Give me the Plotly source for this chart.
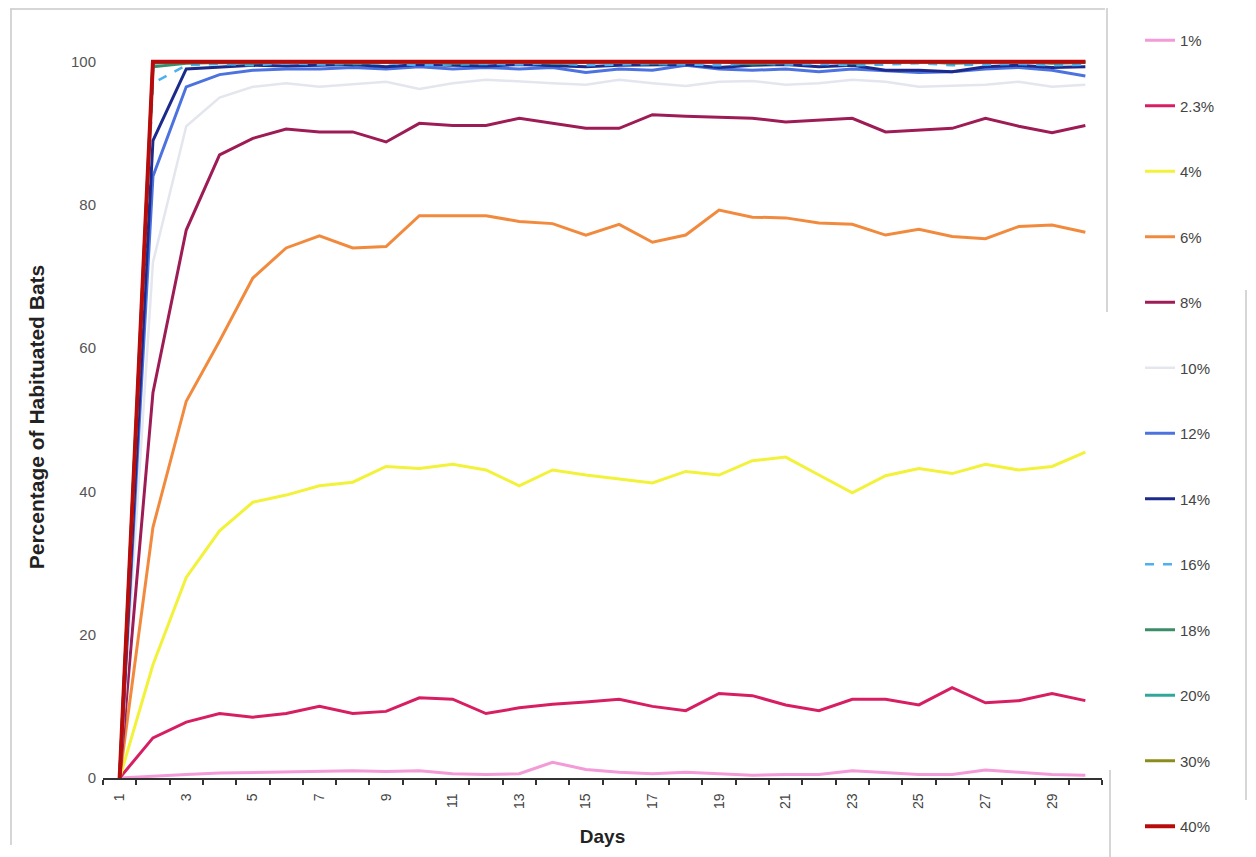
import plotly.graph_objects as go

days = list(range(1, 31))

series_names = ["1%", "2.3%", "4%", "6%", "8%", "10%", "12%", "14%", "16%", "18%", "20%", "30%", "40%"]

s1 = [0, 0.3, 0.5, 0.7, 0.8, 0.8, 1.0, 1.0, 0.9, 1.0, 0.6, 0.5, 0.6, 2.2, 1.2, 0.8, 0.6, 0.8, 0.6, 0.4,
      0.5, 0.5, 1.0, 0.7, 0.5, 0.5, 1.1, 0.8, 0.5, 0.4]
s2_3 = [0, 5.6, 7.8, 9.0, 8.5, 9.0, 10.0, 9.0, 9.3, 11.2, 11.0, 9.0, 9.8, 10.3, 10.6, 11.0, 10.0, 9.4, 11.8, 11.5,
        10.2, 9.4, 11.0, 11.0, 10.2, 12.6, 10.5, 10.8, 11.8, 10.8]
s4 = [0, 15.8, 28.0, 34.5, 38.5, 39.5, 40.8, 41.3, 43.5, 43.2, 43.8, 43.0, 40.8, 43.0, 42.3, 41.8, 41.2, 42.8, 42.3, 44.3,
      44.8, 42.3, 39.8, 42.2, 43.2, 42.5, 43.8, 43.0, 43.5, 45.5]
s6 = [0, 35.0, 52.6, 61.0, 69.8, 74.0, 75.7, 74.0, 74.2, 78.5, 78.5, 78.5, 77.7, 77.4, 75.8, 77.3, 74.8, 75.8, 79.3, 78.3,
      78.2, 77.5, 77.3, 75.8, 76.6, 75.6, 75.3, 77.0, 77.2, 76.2]
s8 = [0, 53.8, 76.5, 87.0, 89.3, 90.6, 90.2, 90.2, 88.8, 91.4, 91.1, 91.1, 92.1, 91.4, 90.7, 90.7, 92.6, 92.4, 92.3, 92.1,
      91.6, 91.9, 92.1, 90.2, 90.4, 90.7, 92.1, 91.0, 90.1, 91.1]
s10 = [0, 72.0, 91.0, 95.0, 96.5, 97.0, 96.5, 96.8, 97.2, 96.2, 97.0, 97.5, 97.2, 97.0, 96.8, 97.5, 97.0, 96.6, 97.2, 97.3,
       96.8, 97.0, 97.5, 97.2, 96.5, 96.7, 96.8, 97.2, 96.5, 96.8]
s12 = [0, 84.0, 96.5, 98.2, 98.8, 99.0, 99.0, 99.2, 99.0, 99.3, 99.0, 99.2, 99.0, 99.2, 98.5, 99.0, 98.8, 99.5, 99.0, 98.8,
       99.0, 98.6, 99.0, 98.8, 98.5, 98.6, 99.0, 99.2, 98.8, 98.0]
s14 = [0, 89.0, 99.0, 99.3, 99.5, 99.4, 99.5, 99.6, 99.3, 99.6, 99.5, 99.4, 99.6, 99.5, 99.3, 99.5, 99.6, 99.6, 99.2, 99.5,
       99.6, 99.3, 99.5, 98.8, 98.8, 98.6, 99.3, 99.5, 99.2, 99.3]
s16 = [0, 97.0, 99.5, 99.7, 99.5, 99.8, 99.6, 99.7, 99.8, 99.5, 99.6, 99.7, 99.6, 99.8, 99.5, 99.6, 99.7, 99.6, 99.5, 99.8,
       99.6, 99.7, 99.5, 99.6, 99.8, 99.5, 99.6, 99.7, 99.5, 99.6]
s18 = [0, 99.3, 99.8, 99.9, 99.8, 100, 99.9, 99.8, 99.9, 100, 99.8, 99.9, 100, 99.8, 99.9, 100, 99.8, 99.9, 100, 99.7,
       99.9, 100, 99.8, 99.9, 100, 99.8, 99.9, 100, 99.8, 99.9]
s20 = [0, 99.8, 100, 100, 99.9, 100, 100, 99.9, 100, 100, 100, 99.9, 100, 100, 99.9, 100, 100, 100, 99.9, 100,
       100, 99.9, 100, 100, 100, 99.9, 100, 100, 100, 100]
s30 = [0] + [100] * 29
s40 = [0] + [100] * 29

series_values = [s1, s2_3, s4, s6, s8, s10, s12, s14, s16, s18, s20, s30, s40]

colors = ["#f39ad8", "#d81e62", "#f2f23a", "#f28a3e", "#9e1c55", "#e4e6ee", "#4c72e0", "#1c2a8c",
          "#4db0f0", "#3c8c68", "#2fa89a", "#8c8c1a", "#b80c0c"]
widths = [3, 3, 3, 3, 3, 2.5, 3, 3, 2.5, 3, 3, 3, 4]
dashes = ["solid"] * 8 + ["dash"] + ["solid"] * 4

xtick_vals = list(range(1, 30, 2))
xtick_text = [str(v) for v in xtick_vals]

fig = go.Figure()
for i, (name, vals) in enumerate(zip(series_names, series_values)):
    fig.add_trace(go.Scatter(
        x=days, y=vals, mode="lines", name=name,
        line=dict(color=colors[i], width=widths[i], dash=dashes[i]),
        legendgroup=name,
    ))

# page is offset by the default 8px body margin
OFF = 8
W, H = 1256 - OFF, 857 - OFF
ML, MT = 103 - OFF, 56 - OFF
MR = W - (1102 - OFF)
MB = H - (778 - OFF)
PW = W - ML - MR
PH = H - MT - MB


def px_x(p):
    return (p - OFF - ML) / PW


def px_y(p):
    return (H - MB - (p - OFF)) / PH


frame = "#c8c8c8"
shapes = [
    dict(type="line", xref="paper", yref="paper", x0=px_x(10), x1=px_x(1105), y0=px_y(9), y1=px_y(9),
         line=dict(color=frame, width=1.5)),
    dict(type="line", xref="paper", yref="paper", x0=px_x(11), x1=px_x(11), y0=px_y(9), y1=px_y(845),
         line=dict(color=frame, width=1.5)),
    dict(type="line", xref="paper", yref="paper", x0=px_x(1107), x1=px_x(1107), y0=px_y(8), y1=px_y(312),
         line=dict(color=frame, width=1.5)),
    dict(type="line", xref="paper", yref="paper", x0=px_x(1246), x1=px_x(1246), y0=px_y(290), y1=px_y(800),
         line=dict(color=frame, width=1.5)),
    dict(type="line", xref="paper", yref="paper", x0=px_x(1110), x1=px_x(1110), y0=px_y(770), y1=px_y(857),
         line=dict(color=frame, width=1.5)),
]

fig.update_layout(
    width=W, height=H,
    margin=dict(l=ML, r=MR, t=MT, b=MB, autoexpand=False),
    paper_bgcolor="white", plot_bgcolor="white",
    font=dict(family="Arial, Liberation Sans, sans-serif", color="#333"),
    showlegend=True,
    legend=dict(
        x=px_x(1140), xanchor="left", y=px_y(24), yanchor="top",
        font=dict(size=15, color="#444"), maxheight=1,
        tracegroupgap=43, bgcolor="rgba(0,0,0,0)",
    ),
    shapes=shapes,
    xaxis=dict(
        range=[0.5, 30.5], tickmode="array", tickvals=xtick_vals, ticktext=xtick_text,
        tickangle=-90, tickfont=dict(size=14, color="#444"), ticks="", ticklabelstandoff=8,
        showgrid=False, zeroline=False, showline=True, linecolor="#333", linewidth=1.5,
        minor=dict(ticks="outside", tick0=0.5, dtick=1, ticklen=5, tickcolor="#333", tickwidth=1.5),
        title=dict(text="<b>Days</b>", font=dict(size=19, color="#222"), standoff=22),
    ),
    yaxis=dict(
        range=[0, 100.8], tickmode="array", tickvals=[0, 20, 40, 60, 80, 100],
        tickfont=dict(size=15, color="#555"), ticks="", ticklabelstandoff=6,
        showgrid=False, zeroline=False, showline=False,
        title=dict(text="<b>Percentage of Habituated Bats</b>", font=dict(size=21, color="#222"), standoff=20),
    ),
)

fig.write_html("out.html")
